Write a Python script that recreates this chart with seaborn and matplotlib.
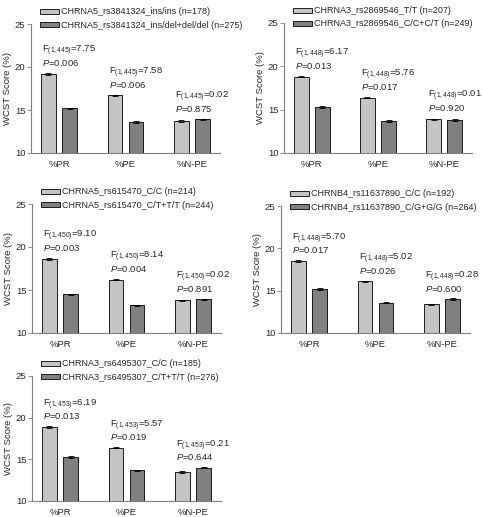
import numpy as np
import pandas as pd
import matplotlib
matplotlib.use("Agg")
import matplotlib.pyplot as plt
import seaborn as sns

# --- data ---
measures = ["%PR", "%PE", "%N-PE"]

groups_1 = ["CHRNA5_rs3841324_ins/ins (n=178)", "CHRNA5_rs3841324_ins/del+del/del (n=275)"]
means_1a = [19.2, 16.7, 13.7]
means_1b = [15.2, 13.6, 13.9]
stats_1 = [("(1,445)", "7.75", "0.006"), ("(1,445)", "7.58", "0.006"), ("(1,445)", "0.02", "0.875")]

groups_2 = ["CHRNA3_rs2869546_T/T (n=207)", "CHRNA3_rs2869546_C/C+C/T (n=249)"]
means_2a = [18.8, 16.4, 13.9]
means_2b = [15.3, 13.7, 13.8]
stats_2 = [("(1,448)", "6.17", "0.013"), ("(1,448)", "5.76", "0.017"), ("(1,448)", "0.01", "0.920")]

groups_3 = ["CHRNA5_rs615470_C/C (n=214)", "CHRNA5_rs615470_C/T+T/T (n=244)"]
means_3a = [18.6, 16.2, 13.8]
means_3b = [14.5, 13.2, 13.9]
stats_3 = [("(1,450)", "9.10", "0.003"), ("(1,450)", "8.14", "0.004"), ("(1,450)", "0.02", "0.891")]

groups_4 = ["CHRNB4_rs11637890_C/C (n=192)", "CHRNB4_rs11637890_C/G+G/G (n=264)"]
means_4a = [18.5, 16.1, 13.4]
means_4b = [15.2, 13.6, 14.0]
stats_4 = [("(1,448)", "5.70", "0.017"), ("(1,448)", "5.02", "0.026"), ("(1,448)", "0.28", "0.600")]

groups_5 = ["CHRNA3_rs6495307_C/C (n=185)", "CHRNA3_rs6495307_C/T+T/T (n=276)"]
means_5a = [18.9, 16.4, 13.5]
means_5b = [15.3, 13.7, 14.0]
stats_5 = [("(1,453)", "6.19", "0.013"), ("(1,453)", "5.57", "0.019"), ("(1,453)", "0.21", "0.644")]

sem = [0.08, 0.08, 0.08]

panels = [
    (groups_1, means_1a, means_1b, stats_1),
    (groups_2, means_2a, means_2b, stats_2),
    (groups_3, means_3a, means_3b, stats_3),
    (groups_4, means_4a, means_4b, stats_4),
    (groups_5, means_5a, means_5b, stats_5),
]

# pixel boxes (left, right, top, bottom)
boxes = [(31, 220, 24, 153), (284, 472, 23, 153),
         (32, 221, 204, 333), (281, 470, 206, 333),
         (32, 221, 376, 501)]

sns.set_style("white")
plt.rcParams["font.family"] = ["Liberation Sans", "DejaVu Sans"]
plt.rcParams["mathtext.fontset"] = "custom"
plt.rcParams["mathtext.rm"] = "Liberation Sans"
plt.rcParams["mathtext.it"] = "Liberation Sans:italic"

W, H = 482, 517
fig = plt.figure(figsize=(W / 100, H / 100), dpi=100)
spine_col = "#7f7f7f"
fs = 6.8

for (groups, ma, mb, stats), (l, r, t, b) in zip(panels, boxes):
    ax = fig.add_axes([l / W, (H - b) / H, (r - l) / W, (b - t) / H])
    hpx = b - t
    df = pd.DataFrame({
        "measure": measures * 2,
        "group": [groups[0]] * 3 + [groups[1]] * 3,
        "score": ma + mb,
    })
    sns.barplot(data=df, x="measure", y="score", hue="group", ax=ax,
                palette=["#c4c4c4", "#808080"], edgecolor="black", linewidth=0.6,
                width=0.64, gap=0.31, errorbar=None)
    bars = list(ax.containers)
    for cont in bars:
        xs = [p.get_x() + p.get_width() / 2 for p in cont]
        ys = [p.get_height() for p in cont]
        ax.errorbar(xs, ys, yerr=sem, fmt="none", ecolor="black", elinewidth=0.6,
                    capsize=2.2, capthick=0.6)
    ax.legend(bars, groups, loc="lower left", bbox_to_anchor=(0.047, 1 - 5.5 / hpx),
              frameon=False, fontsize=6.45, handlelength=2.1, handleheight=0.58,
              handletextpad=0.3, labelspacing=0.45, borderpad=0, borderaxespad=0)
    for i, (dfree, fval, pval) in enumerate(stats):
        top = max(ma[i], mb[i])
        ax.text(i - 0.25, top + 2.65, r"F$_{" + dfree + "}$=" + fval,
                fontsize=fs, ha="left", va="center")
        ax.text(i - 0.25, top + 1.25, r"$P$=" + pval,
                fontsize=fs, ha="left", va="center")
    ax.set_ylim(10, 25)
    ax.set_xlim(-0.42, 2.42)
    ax.set_yticks([10, 15, 20, 25])
    ax.set_xlabel("")
    ax.set_ylabel("WCST Score (%)", fontsize=fs)
    ax.yaxis.set_label_coords(-19 / (r - l), 0.5)
    ax.tick_params(axis="y", which="both", left=True, length=3, width=0.6,
                   color=spine_col, labelsize=fs, pad=1)
    ax.tick_params(axis="x", bottom=False, labelsize=fs, pad=1.5)
    for s in ["top", "right"]:
        ax.spines[s].set_visible(False)
    for s in ["left", "bottom"]:
        ax.spines[s].set_color(spine_col)
        ax.spines[s].set_linewidth(0.8)

fig.savefig("out.png", dpi=100)
